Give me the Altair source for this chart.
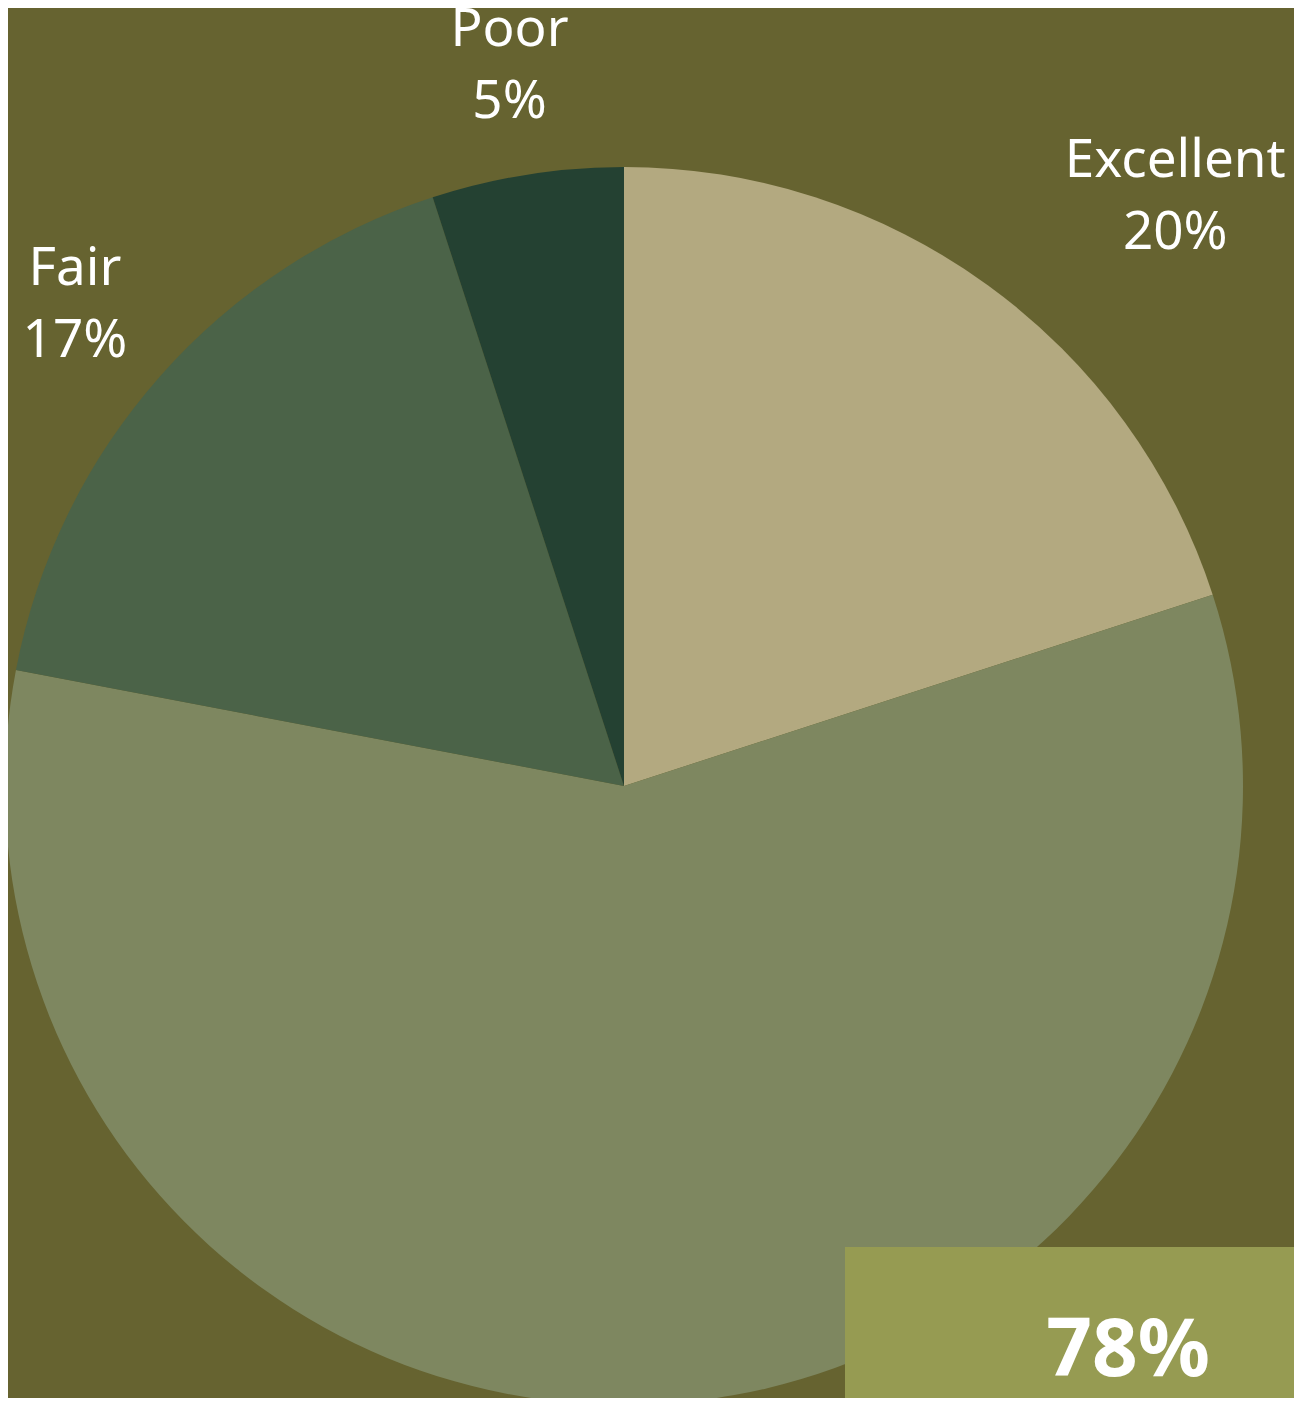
import altair as alt
import pandas as pd

# ---- data ----
categories = ["Excellent", "Good", "Fair", "Poor"]
shares = [20, 58, 17, 5]
slice_colors = ["#B3A980", "#7E8760", "#4B6348", "#244132"]
callout_label = ["78%"]

df = pd.DataFrame({
    "category": categories,
    "share": shares,
    "order": list(range(len(categories))),
})
df["pct"] = df["share"].astype(str) + "%"

# ---- layout (chart coordinates; page adds 8px margin) ----
CX, CY = 616, 778
R = 619
LR = 732
FONT = "Noto Sans"
BG = "#666330"

base = alt.Chart(df).encode(
    theta=alt.Theta("share:Q", stack=True),
    order=alt.Order("order:Q"),
    x=alt.value(CX),
    y=alt.value(CY),
)

pie = base.mark_arc(radius=R).encode(
    color=alt.Color(
        "category:N",
        scale=alt.Scale(domain=categories, range=slice_colors),
        legend=None,
    )
)

txt = dict(font=FONT, fontSize=53, color="white", align="center",
           baseline="alphabetic", radius=LR)

show_main = "datum.category === 'Fair' || datum.category === 'Poor'"
show_exc = "datum.category === 'Excellent'"

names_main = base.mark_text(dy=-17, **txt).encode(
    text=alt.condition(show_main, alt.Text("category:N"), alt.value(""))
)
pcts_main = base.mark_text(dy=55, **txt).encode(
    text=alt.condition(show_main, alt.Text("pct:N"), alt.value(""))
)
names_exc = base.mark_text(dy=-17, dx=121, **txt).encode(
    text=alt.condition(show_exc, alt.Text("category:N"), alt.value(""))
)
pcts_exc = base.mark_text(dy=55, dx=121, **txt).encode(
    text=alt.condition(show_exc, alt.Text("pct:N"), alt.value(""))
)

cdf = pd.DataFrame({"label": callout_label})
box = alt.Chart(cdf).mark_rect(color="#969B52").encode(
    x=alt.value(837), x2=alt.value(1286),
    y=alt.value(1239), y2=alt.value(1390),
)
box_text = alt.Chart(cdf).mark_text(
    font=FONT, fontSize=80, fontWeight="bold", color="white",
    align="center", baseline="alphabetic",
).encode(x=alt.value(1120), y=alt.value(1368), text="label:N")

chart = alt.layer(
    pie, names_main, pcts_main, names_exc, pcts_exc, box, box_text
).properties(
    width=1286, height=1390, padding=0,
    autosize=alt.AutoSizeParams(type="none"),
    background=BG,
).configure_view(strokeWidth=0)

chart.save("out.html", embed_options={"renderer": "svg", "actions": False})
